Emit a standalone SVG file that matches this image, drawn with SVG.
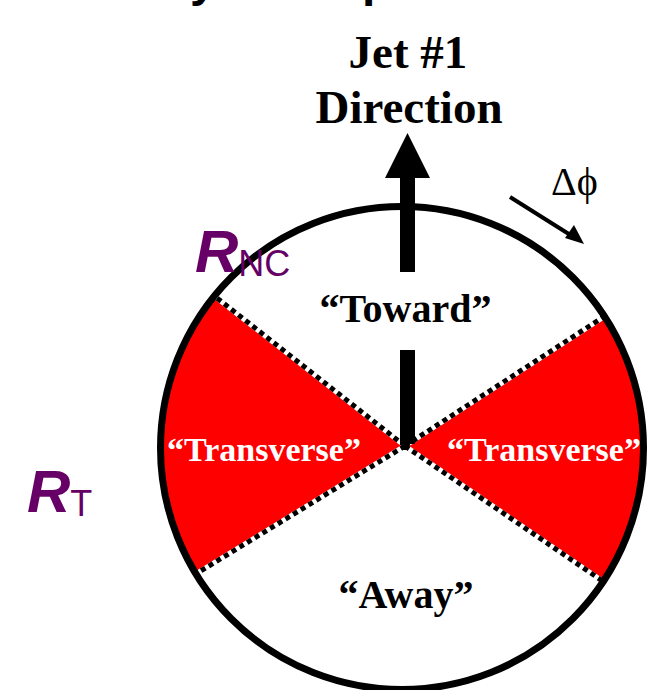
<svg xmlns="http://www.w3.org/2000/svg" width="652" height="690" viewBox="0 0 652 690">
<style>
.serif{font-family:"Liberation Serif","Times New Roman",serif;font-weight:bold;text-anchor:middle}
.rl{font-family:"Liberation Sans",Arial,sans-serif;fill:#660066}
.dotbg{stroke:#fff;stroke-width:5;fill:none}
.dot{stroke:#000;stroke-width:5;stroke-dasharray:5 4;fill:none}
</style>
<rect width="652" height="690" fill="#fff"/>
<g id="title-fragment">
<text x="190" y="-4" font-family="Liberation Sans, Arial, sans-serif" font-weight="bold" font-size="48">y</text>
<text x="362" y="-4" font-family="Liberation Sans, Arial, sans-serif" font-weight="bold" font-size="48">p</text>
</g>
<g id="transverse-left-sector">
<path d="M405,446 L214.4,296 A241.5,241.5 0 0 0 195.9,573.9 Z" fill="#ff0000"/>
</g>
<g id="transverse-right-sector">
<path d="M405,446 L604.5,316.3 A241.5,241.5 0 0 1 603.2,581.5 Z" fill="#ff0000"/>
</g>
<g id="boundaries">
<path class="dotbg" d="M405,446 L214.4,296 M405,446 L195.9,573.9 M405,446 L604.5,316.3 M405,446 L603.2,581.5"/>
<path class="dot" d="M405,446 L214.4,296 M405,446 L195.9,573.9 M405,446 L604.5,316.3 M405,446 L603.2,581.5"/>
</g>
<g id="circle">
<circle cx="402" cy="448" r="241.5" fill="none" stroke="#000" stroke-width="7"/>
</g>
<g id="connectors">
<g id="jet-arrow">
<rect x="400" y="176" width="15" height="96" fill="#000"/>
<rect x="400" y="350" width="15" height="94" fill="#000"/>
<polygon points="407.5,133 385,178 430,178" fill="#000"/>
</g>
<g id="dphi-arrow">
<line x1="510" y1="197" x2="572" y2="236" stroke="#000" stroke-width="4"/>
<polygon points="584,244 565,238 574,225" fill="#000"/>
</g>
</g>
<g id="jet-label">
<text class="serif" x="408" y="68" font-size="47">Jet #1</text>
<text class="serif" x="409" y="123" font-size="47">Direction</text>
</g>
<g id="dphi-label">
<text x="551" y="195" font-family="Liberation Serif, Times New Roman, serif" font-size="40">Δϕ</text>
</g>
<g id="toward-label">
<text class="serif" x="405.5" y="322" font-size="40">“Toward”</text>
</g>
<g id="transverse-labels">
<text class="serif" x="264" y="461" font-size="34" fill="#fff">“Transverse”</text>
<text class="serif" x="544" y="461" font-size="34" fill="#fff">“Transverse”</text>
</g>
<g id="away-label">
<text class="serif" x="406" y="608" font-size="40">“Away”</text>
</g>
<g id="rnc-label">
<text class="rl" x="195" y="272" font-size="60" font-weight="bold" font-style="italic">R<tspan font-size="36" font-weight="normal" font-style="normal" dy="4">NC</tspan></text>
</g>
<g id="rt-label">
<text class="rl" x="27" y="512" font-size="60" font-weight="bold" font-style="italic">R<tspan font-size="36" font-weight="normal" font-style="normal" dy="4">T</tspan></text>
</g>
</svg>
